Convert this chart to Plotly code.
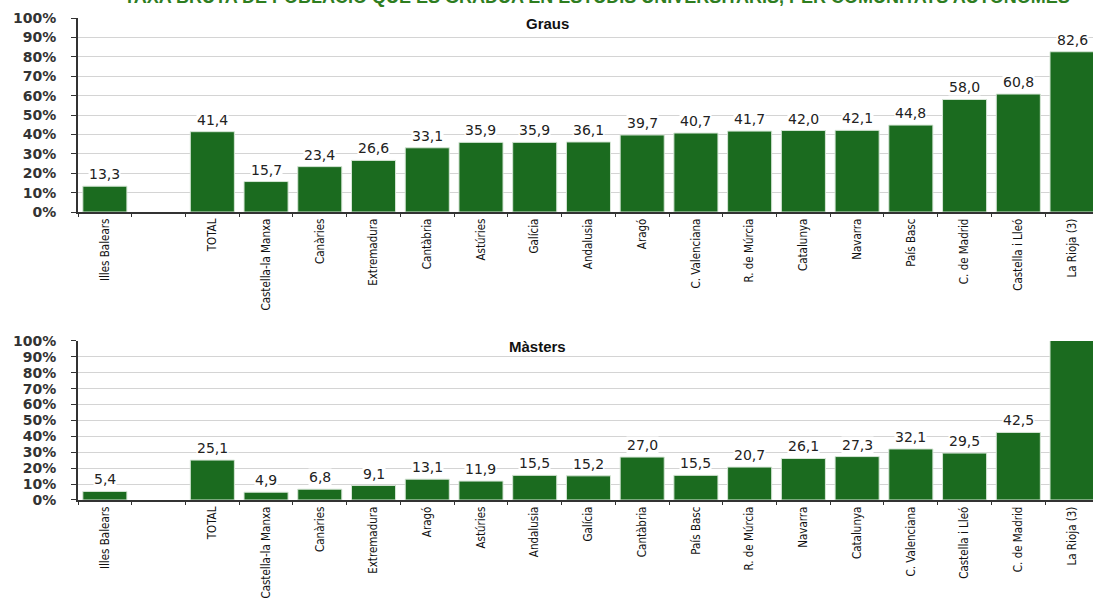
import plotly.graph_objects as go

title_text = "TAXA BRUTA DE POBLACIÓ QUE ES GRADUA EN ESTUDIS UNIVERSITARIS, PER COMUNITATS AUTÒNOMES"

categories_graus = ["Illes Balears", " ", "TOTAL", "Castella-la Manxa", "Canàries", "Extremadura",
                    "Cantàbria", "Astúries", "Galícia", "Andalusia", "Aragó", "C. Valenciana",
                    "R. de Múrcia", "Catalunya", "Navarra", "País Basc", "C. de Madrid",
                    "Castella i Lleó", "La Rioja (3)"]
values_graus = [13.3, None, 41.4, 15.7, 23.4, 26.6, 33.1, 35.9, 35.9, 36.1, 39.7, 40.7,
                41.7, 42.0, 42.1, 44.8, 58.0, 60.8, 82.6]

categories_masters = ["Illes Balears", " ", "TOTAL", "Castella-la Manxa", "Canàries", "Extremadura",
                      "Aragó", "Astúries", "Andalusia", "Galícia", "Cantàbria", "País Basc",
                      "R. de Múrcia", "Navarra", "Catalunya", "C. Valenciana", "Castella i Lleó",
                      "C. de Madrid", "La Rioja (3)"]
values_masters = [5.4, None, 25.1, 4.9, 6.8, 9.1, 13.1, 11.9, 15.5, 15.2, 27.0, 15.5,
                  20.7, 26.1, 27.3, 32.1, 29.5, 42.5, 110.0]

y_ticks = [0, 10, 20, 30, 40, 50, 60, 70, 80, 90, 100]
y_tick_labels = [f"{v}%" for v in y_ticks]

BAR = "#1b6b1f"
NARROW = "DejaVu Sans Condensed, DejaVu Sans, sans-serif"


def fmt(v):
    return f"{v:.1f}".replace(".", ",")


fig = go.Figure()
fig.add_trace(go.Bar(x=categories_graus, y=values_graus, xaxis="x", yaxis="y",
                     marker=dict(color=BAR, line=dict(color="#d6e6d6", width=1)),
                     showlegend=False, hoverinfo="x+y"))
fig.add_trace(go.Bar(x=categories_masters, y=values_masters, xaxis="x2", yaxis="y2",
                     marker=dict(color=BAR, line=dict(color="#d6e6d6", width=1)),
                     showlegend=False, hoverinfo="x+y"))

annotations = []
for cats, vals, xr, yr in [(categories_graus, values_graus, "x", "y"),
                           (categories_masters, values_masters, "x2", "y2")]:
    for c, v in zip(cats, vals):
        if v is None or v > 100:
            continue
        annotations.append(dict(x=c, y=v, xref=xr, yref=yr, text=fmt(v), showarrow=False,
                                xanchor="center", yanchor="bottom", yshift=3,
                                bgcolor="white", borderpad=0,
                                font=dict(family="DejaVu Sans", size=14, color="#222")))

xcommon = dict(type="category", range=[-0.5, 18.39], tickangle=-90, tickson="boundaries",
               ticks="outside", ticklen=3, tickcolor="#333", showline=True, linecolor="#333",
               linewidth=2, showgrid=False, automargin=False,
               tickfont=dict(family=NARROW, size=11.5, color="#111"))
ycommon = dict(range=[0, 100], tickvals=y_ticks, ticktext=y_tick_labels, ticks="outside",
               ticklen=5, tickcolor="#333", showline=True, linecolor="#333", linewidth=2,
               showgrid=True, gridcolor="#d4d4d4", gridwidth=1, zeroline=False,
               automargin=False, ticklabelstandoff=12,
               tickfont=dict(family="DejaVu Sans", size=14, color="#333", weight="bold"))

annotations += [
    dict(text="<b>" + title_text + "</b>", xref="paper", yref="paper", x=0.511, y=1.0187,
         xanchor="center", yanchor="bottom", showarrow=False,
         font=dict(family="Liberation Sans, Arial, sans-serif", size=18, color="#2e7d1f")),
    dict(text="<b>Graus</b>", xref="paper", yref="paper", x=0.463, y=0.988,
         xanchor="center", yanchor="middle", showarrow=False,
         font=dict(family="Liberation Sans, Arial, sans-serif", size=15, color="#111")),
    dict(text="<b>Màsters</b>", xref="paper", yref="paper", x=0.453, y=0.318,
         xanchor="center", yanchor="middle", showarrow=False,
         font=dict(family="Liberation Sans, Arial, sans-serif", size=15, color="#111")),
]

fig.update_layout(
    width=1093, height=599,
    margin=dict(l=78, r=0, t=18, b=99),
    paper_bgcolor="white", plot_bgcolor="white",
    bargap=0.18,
    font=dict(family="DejaVu Sans"),
    xaxis=dict(anchor="y", domain=[0, 1], **xcommon),
    yaxis=dict(anchor="x", domain=[0.5975, 1.0], **ycommon),
    xaxis2=dict(anchor="y2", domain=[0, 1], **xcommon),
    yaxis2=dict(anchor="x2", domain=[0.0, 0.3299], **ycommon),
    annotations=annotations,
)

fig.write_html("out.html", config={"displayModeBar": False},
               post_script="document.body.style.margin='0';document.body.style.overflow='hidden';")
